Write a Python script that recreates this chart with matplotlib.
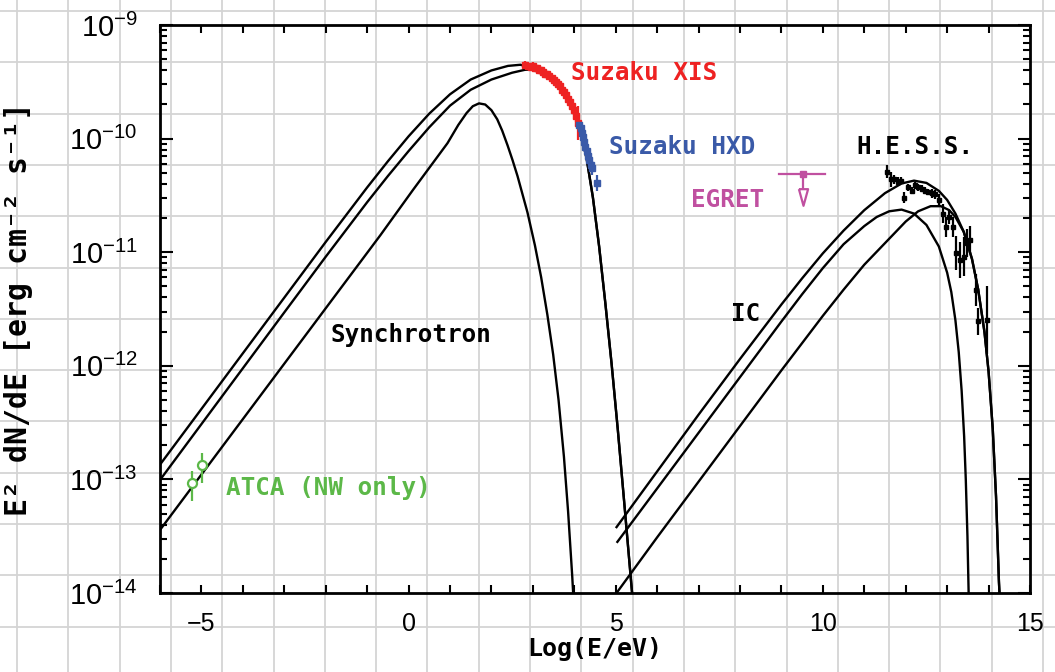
import numpy as np
import matplotlib.pyplot as plt
from matplotlib.lines import Line2D
from matplotlib.ticker import MultipleLocator, FixedLocator, LogLocator, NullFormatter

# model curves: x = log10(E/eV), y = log10(E^2 dN/dE)
sync_a_x = [-6.0, -3.0, -2.0, -1.0, -0.5, 0.0, 0.5, 1.0, 1.5, 2.0, 2.4, 2.7, 3.0, 3.35, 3.67,
            3.96, 4.15, 4.30, 4.45, 4.60, 4.75, 4.90, 5.05, 5.20, 5.30, 5.40]
sync_a_y = [-12.87, -11.40, -10.91, -10.43, -10.20, -9.98, -9.78, -9.61, -9.48, -9.40, -9.36, -9.35, -9.38, -9.455, -9.57,
            -9.735, -9.93, -10.18, -10.52, -10.95, -11.45, -11.98, -12.56, -13.18, -13.60, -14.02]

sync_b_x = [-6.0, -3.0, -2.0, -1.0, -0.5, 0.0, 0.5, 1.0, 1.5, 2.0, 2.5, 2.8, 3.0, 3.35, 3.67,
            3.96, 4.15, 4.30, 4.45, 4.60, 4.75, 4.90, 5.05, 5.20, 5.30, 5.40]
sync_b_y = [-13.005, -11.53, -11.04, -10.56, -10.33, -10.11, -9.90, -9.71, -9.57, -9.48, -9.42, -9.395, -9.39, -9.455, -9.57,
            -9.735, -9.93, -10.18, -10.52, -10.95, -11.45, -11.98, -12.56, -13.18, -13.60, -14.02]

sync_c_x = [-6.0, -1.89, -0.68, 0.11, 0.94, 1.2, 1.4, 1.55, 1.7, 1.85, 2.0, 2.14, 2.26, 2.39,
            2.51, 2.63, 2.87, 3.05, 3.2, 3.35, 3.49, 3.62, 3.75, 3.85, 3.95, 3.98]
sync_c_y = [-13.445, -11.44, -10.85, -10.45, -10.04, -9.88, -9.775, -9.715, -9.69, -9.70, -9.75, -9.83, -9.93, -10.06,
            -10.19, -10.33, -10.65, -10.94, -11.22, -11.55, -11.90, -12.30, -12.80, -13.28, -13.85, -14.05]

ic_a_x = [5.02, 6.0, 7.0, 8.0, 9.0, 9.5, 10.0, 10.5, 11.0, 11.5, 11.9, 12.2, 12.5, 12.8, 13.0,
          13.2, 13.4, 13.6, 13.75, 13.9, 14.0, 14.1, 14.18, 14.25, 14.27]
ic_a_y = [-13.42, -12.93, -12.43, -11.94, -11.46, -11.23, -11.01, -10.81, -10.63, -10.48, -10.395, -10.37, -10.39, -10.46, -10.54,
          -10.66, -10.82, -11.06, -11.33, -11.70, -12.05, -12.55, -13.15, -13.90, -14.05]

ic_b_x = [5.04, 7.0, 9.0, 9.5, 10.0, 10.5, 11.0, 11.3, 11.6, 11.9, 12.2, 12.5, 12.8, 13.0,
          13.1, 13.2, 13.28, 13.35, 13.41, 13.45, 13.49, 13.52]
ic_b_y = [-13.55, -12.59, -11.61, -11.37, -11.14, -10.93, -10.77, -10.69, -10.64, -10.625, -10.66, -10.76, -10.95, -11.18,
          -11.35, -11.60, -11.88, -12.22, -12.62, -13.00, -13.50, -14.02]

ic_c_x = [5.04, 6.0, 7.0, 8.0, 9.0, 10.0, 10.5, 11.0, 11.5, 12.0, 12.3, 12.6, 12.85, 13.05, 13.2,
          13.4, 13.6, 13.75, 13.9, 14.0, 14.1, 14.18, 14.25, 14.27]
ic_c_y = [-13.99, -13.51, -13.02, -12.53, -12.04, -11.56, -11.33, -11.11, -10.92, -10.73, -10.64, -10.595, -10.595, -10.63, -10.69,
          -10.82, -11.06, -11.33, -11.70, -12.05, -12.55, -13.15, -13.90, -14.05]

# Suzaku XIS
xis_x = [2.82, 2.88, 2.95, 3.00, 3.05, 3.10, 3.15, 3.20, 3.25, 3.30, 3.35, 3.40, 3.45,
         3.50, 3.55, 3.60, 3.65, 3.70, 3.75, 3.80, 3.85, 3.90, 3.95, 4.00, 4.05, 4.09]
xis_y = [-9.35, -9.36, -9.37, -9.36, -9.38, -9.38, -9.40, -9.40, -9.41, -9.43, -9.43, -9.45, -9.47,
         -9.48, -9.50, -9.52, -9.54, -9.57, -9.59, -9.62, -9.65, -9.68, -9.71, -9.75, -9.80, -9.86]
xis_err = [0.03, 0.02, 0.02, 0.03, 0.02, 0.02, 0.03, 0.02, 0.02, 0.03, 0.02, 0.02, 0.03,
           0.02, 0.03, 0.02, 0.03, 0.02, 0.03, 0.03, 0.03, 0.03, 0.04, 0.04, 0.05, 0.15]

# Suzaku HXD
hxd_x = [4.12, 4.15, 4.18, 4.21, 4.24, 4.27, 4.30, 4.33, 4.36, 4.40, 4.43, 4.56]
hxd_y = [-9.88, -9.91, -9.95, -9.99, -10.03, -10.07, -10.11, -10.15, -10.19, -10.23, -10.26, -10.39]
hxd_err = [0.04, 0.04, 0.04, 0.05, 0.05, 0.05, 0.05, 0.06, 0.06, 0.06, 0.06, 0.07]

# H.E.S.S.
hess_x = [11.55, 11.64, 11.71, 11.81, 11.88, 11.96, 12.05, 12.15, 12.22, 12.29, 12.39, 12.46, 12.54, 12.63,
          12.71, 12.80, 12.90, 12.97, 13.04, 13.14, 13.21, 13.31, 13.41, 13.48, 13.55, 13.70, 13.74, 13.96]
hess_y = [-10.29, -10.36, -10.36, -10.38, -10.37, -10.52, -10.43, -10.46, -10.41, -10.43, -10.44, -10.46, -10.47, -10.48,
          -10.49, -10.54, -10.66, -10.78, -10.69, -10.78, -11.01, -11.07, -11.04, -10.92, -10.89, -11.33, -11.61, -11.60]
hess_err = [0.06, 0.07, 0.04, 0.04, 0.03, 0.05, 0.03, 0.03, 0.03, 0.03, 0.03, 0.03, 0.03, 0.04,
            0.04, 0.05, 0.08, 0.09, 0.06, 0.09, 0.15, 0.16, 0.17, 0.12, 0.12, 0.14, 0.12, 0.30]

# ATCA radio points (flux, lower, upper)
atca_x = [-5.23, -4.99]
atca_flux = [9.35e-14, 1.34e-13]
atca_lo = [6.46e-14, 9.25e-14]
atca_hi = [1.19e-13, 1.72e-13]

# EGRET upper limit
egret_x = 9.51
egret_flux = 4.9e-11
egret_xlo, egret_xhi = 8.93, 10.05

decades = [1e-14, 1e-13, 1e-12, 1e-11, 1e-10, 1e-9]

red = '#ee2222'
blue = '#3a5aa8'
magenta = '#c050a0'
green = '#5cb848'
mono = 'DejaVu Sans Mono'

fig = plt.figure(figsize=(10.55, 6.72), dpi=100)

# graph-paper background over the whole figure
step = 51.3
for px in np.arange(17, 1055, step):
    fig.add_artist(Line2D([px / 1055, px / 1055], [0, 1], transform=fig.transFigure,
                          color='#d4d4d4', lw=1.3, zorder=-5))
for py in np.arange(11, 672, step):
    fig.add_artist(Line2D([0, 1], [1 - py / 672, 1 - py / 672], transform=fig.transFigure,
                          color='#d4d4d4', lw=1.3, zorder=-5))

ax = fig.add_axes([160 / 1055, 79 / 672, 870 / 1055, 568 / 672])
ax.set_facecolor('none')
ax.set_yscale('log')
ax.set_xlim(-6, 15)
ax.set_ylim(1e-14, 1e-9)

for cx, cy in [(sync_a_x, sync_a_y), (sync_b_x, sync_b_y), (sync_c_x, sync_c_y),
               (ic_a_x, ic_a_y), (ic_b_x, ic_b_y), (ic_c_x, ic_c_y)]:
    ax.plot(cx, 10 ** np.array(cy), color='black', lw=1.7, solid_joinstyle='round')


def logbars(x, y, e, color, ms, xe=None):
    y = np.array(y)
    e = np.array(e)
    f = 10 ** y
    ax.errorbar(x, f, yerr=[f - 10 ** (y - e), 10 ** (y + e) - f], xerr=xe,
                fmt='s', ms=ms, color=color, elinewidth=1.6, capsize=0, zorder=4)


logbars(xis_x, xis_y, xis_err, red, 4, xe=0.03)
logbars(hxd_x, hxd_y, hxd_err, blue, 4, xe=0.015)
logbars(hess_x, hess_y, hess_err, 'black', 3, xe=0.03)

atca_flux = np.array(atca_flux)
ax.errorbar(atca_x, atca_flux, yerr=[atca_flux - np.array(atca_lo), np.array(atca_hi) - atca_flux],
            fmt='o', ms=6.5, mfc='white', mec=green, mew=1.6, color=green, elinewidth=1.6,
            capsize=0, zorder=5)

# EGRET upper limit with arrow
ax.plot([egret_xlo, egret_xhi], [egret_flux, egret_flux], color=magenta, lw=1.6)
ax.plot([egret_x], [egret_flux], 's', color=magenta, ms=5)
ax.plot([egret_x, egret_x], [egret_flux, egret_flux * 10 ** -0.13], color=magenta, lw=1.6)
tri = [(-0.55, 1), (0.55, 1), (0, -1), (-0.55, 1)]
ax.plot([egret_x], [egret_flux * 10 ** -0.205], marker=tri, ms=12, mfc='white',
        mec=magenta, mew=1.6, ls='none')

txt = dict(family=mono, fontsize=17.5, weight='bold', va='center', ha='left')
ax.text(3.91, 10 ** -9.42, 'Suzaku XIS', color=red, **txt)
ax.text(4.83, 10 ** -10.074, 'Suzaku HXD', color=blue, **txt)
ax.text(10.82, 10 ** -10.074, 'H.E.S.S.', color='black', **txt)
ax.text(6.81, 10 ** -10.54, 'EGRET', color=magenta, **txt)
ax.text(7.78, 10 ** -11.544, 'IC', color='black', **txt)
ax.text(-1.89, 10 ** -11.73, 'Synchrotron', color='black', **txt)
ax.text(-4.40, 10 ** -13.076, 'ATCA (NW only)', color=green, **txt)

ax.xaxis.set_major_locator(MultipleLocator(5))
ax.xaxis.set_minor_locator(MultipleLocator(1))
ax.yaxis.set_major_locator(FixedLocator(decades))
ax.yaxis.set_minor_locator(LogLocator(base=10, subs=np.arange(2, 10)))
ax.yaxis.set_minor_formatter(NullFormatter())

ax.tick_params(which='both', direction='in', top=True, right=True, width=1.5, color='black')
ax.tick_params(axis='x', which='both', length=6)
ax.tick_params(axis='y', which='major', length=9)
ax.tick_params(axis='y', which='minor', length=5)
ax.tick_params(axis='y', labelsize=21, pad=16, labelfontfamily='Liberation Sans')
ax.tick_params(axis='x', labelsize=18, pad=14, labelfontfamily='Liberation Sans')

for s in ax.spines.values():
    s.set_linewidth(2)

ax.set_xlabel('Log(E/eV)', family=mono, fontsize=18, weight='bold')
ax.set_ylabel('E² dN/dE [erg cm⁻² s⁻¹]', family=mono, fontsize=21.5, weight='bold')
ax.xaxis.set_label_coords(0.5, -0.078)
ax.yaxis.set_label_coords(-0.146, 0.5)

fig.savefig('out.png', dpi=100)
